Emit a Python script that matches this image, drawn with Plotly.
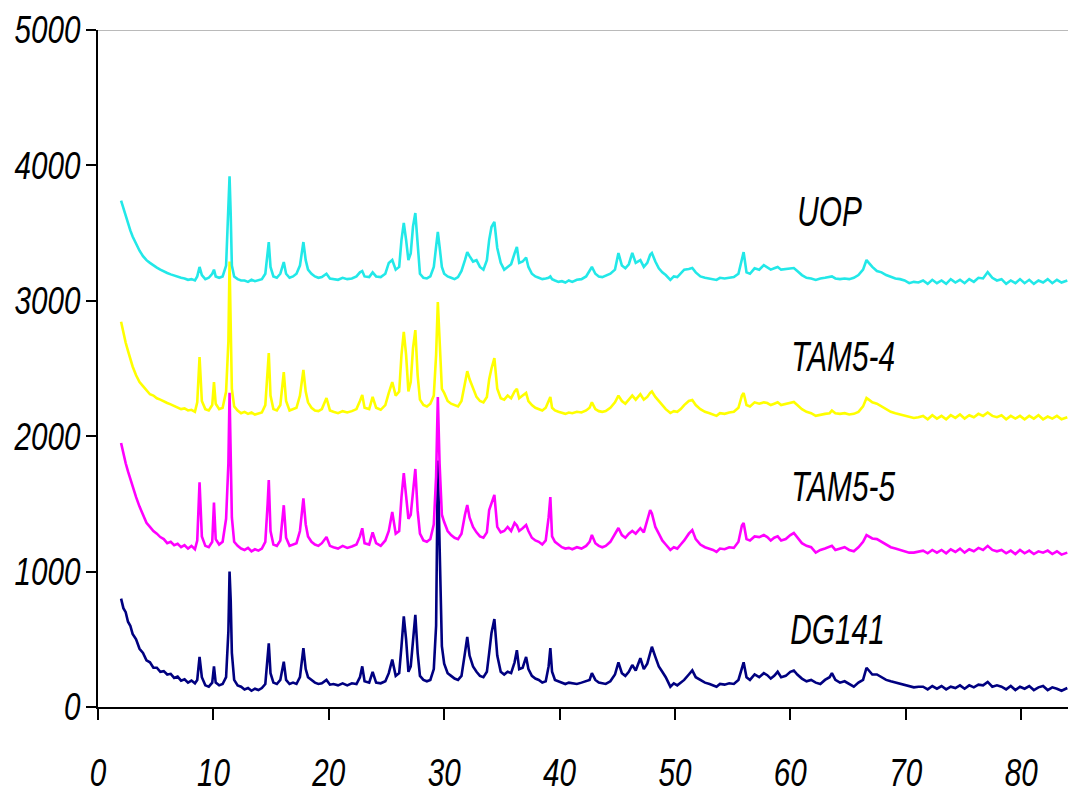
import plotly.graph_objects as go

# Common 2-theta scan positions (degrees)
two_theta = [
    2.0, 2.2, 2.4, 2.6, 2.8, 3.0, 3.3, 3.6, 3.9, 4.2, 4.5, 4.8, 5.1, 5.4, 5.7, 6.0, 6.3, 6.6, 6.9, 7.2, 7.5, 7.8, 8.1, 8.4,
    8.6, 8.8, 9.0, 9.3, 9.6, 9.9, 10.05, 10.2, 10.5, 10.8, 11.1, 11.3, 11.4, 11.5, 11.6, 11.8, 12.1, 12.4,
    12.7, 13.0, 13.3, 13.6, 13.9, 14.2, 14.5, 14.7, 14.8, 14.95, 15.2, 15.5, 15.8, 16.1, 16.3, 16.6, 16.9, 17.2, 17.5, 17.8, 18.0, 18.2,
    18.5, 18.8, 19.1, 19.4, 19.8, 20.1, 20.4, 20.8, 21.2, 21.6, 22.0, 22.4, 22.7, 22.9, 23.1, 23.5, 23.8, 24.1, 24.5, 24.9, 25.2, 25.5, 25.8,
    26.1, 26.3, 26.5, 26.7, 26.9, 27.1, 27.3, 27.5, 27.7, 27.9, 28.2, 28.5, 28.8, 29.1, 29.3, 29.45, 29.6, 29.8, 30.0, 30.3, 30.6, 30.9, 31.2, 31.5,
    31.8, 32.0, 32.2, 32.5, 32.8, 33.1, 33.4, 33.7, 33.9, 34.1, 34.35, 34.6, 34.9, 35.2, 35.5, 35.8, 36.1, 36.3, 36.5, 36.8, 37.1, 37.3, 37.6, 37.9,
    38.2, 38.5, 38.8, 39.05, 39.2, 39.35, 39.6, 39.9, 40.2, 40.5, 40.8, 41.1, 41.5, 41.9, 42.3, 42.6, 42.8, 43.1, 43.4, 43.7, 44.0, 44.4,
    44.8, 45.1, 45.4, 45.7, 46.0, 46.3, 46.6, 47.0, 47.3, 47.6, 47.85, 48.0, 48.3, 48.6, 48.9, 49.2, 49.6, 49.9, 50.2, 50.5, 50.8,
    51.2, 51.5, 51.8, 52.2, 52.6, 53.0, 53.3, 53.6, 53.9, 54.3, 54.7, 55.1, 55.5, 55.8, 55.95, 56.2, 56.5, 56.9, 57.3, 57.7,
    58.0, 58.3, 58.6, 58.9, 59.2, 59.6, 60.0, 60.3, 60.6, 61.0, 61.4, 61.8, 62.2, 62.6, 63.0, 63.4, 63.6, 63.9, 64.3,
    64.7, 65.1, 65.5, 65.9, 66.3, 66.6, 66.8, 67.1, 67.5, 67.9, 68.3, 68.7, 69.1, 69.5, 69.9, 70.3, 70.7, 71.1,
    71.5, 71.9, 72.3, 72.7, 73.1, 73.5, 73.9, 74.3, 74.7, 75.1, 75.5, 75.9, 76.3, 76.7, 77.1, 77.5, 77.9,
    78.3, 78.7, 79.1, 79.5, 79.9, 80.3, 80.7, 81.1, 81.5, 81.9, 82.3, 82.7, 83.1, 83.5, 84.0,
]

# Intensities (counts), each pattern already offset on the stacked plot
uop = [
    3740, 3680, 3620, 3570, 3520, 3475, 3420, 3370, 3330, 3300, 3280, 3260, 3245, 3230, 3215, 3205, 3195, 3185, 3180, 3170, 3165, 3155, 3160, 3150,
    3180, 3250, 3190, 3160, 3170, 3200, 3230, 3180, 3170, 3180, 3260, 3650, 3920, 3640, 3260, 3180, 3160, 3150,
    3150, 3140, 3155, 3145, 3150, 3160, 3200, 3380, 3434, 3250, 3180, 3170, 3200, 3286, 3200, 3170, 3180, 3200, 3260, 3434, 3300, 3230,
    3200, 3180, 3170, 3175, 3200, 3165, 3160, 3155, 3170, 3160, 3165, 3180, 3210, 3220, 3180, 3175, 3210, 3180, 3175, 3200, 3280, 3301, 3230,
    3250, 3450, 3575, 3450, 3300, 3350, 3550, 3648, 3400, 3200, 3170, 3165, 3180, 3250, 3400, 3508, 3400, 3250, 3200, 3180, 3170, 3160, 3175, 3220,
    3300, 3360, 3330, 3290, 3300, 3250, 3230, 3300, 3450, 3545, 3582, 3390, 3280, 3230, 3250, 3270, 3350, 3397, 3280, 3290, 3320, 3250, 3200, 3180,
    3170, 3160, 3165, 3170, 3180, 3160, 3150, 3140, 3145, 3135, 3150, 3140, 3155, 3160, 3180, 3220, 3250, 3200, 3180, 3175, 3185, 3200,
    3230, 3353, 3260, 3240, 3270, 3353, 3280, 3300, 3250, 3280, 3340, 3353, 3290, 3240, 3210, 3190, 3154, 3180, 3175, 3200, 3230,
    3235, 3242, 3210, 3180, 3170, 3165, 3160, 3154, 3170, 3165, 3170, 3175, 3200, 3320, 3360, 3210, 3200, 3240, 3230, 3264,
    3250, 3230, 3240, 3250, 3230, 3235, 3240, 3242, 3220, 3190, 3170, 3165, 3154, 3165, 3170, 3175, 3180, 3165, 3160,
    3165, 3160, 3170, 3190, 3230, 3301, 3280, 3250, 3220, 3210, 3190, 3175, 3165, 3160, 3150, 3130, 3140, 3135,
    3150, 3125, 3155, 3130, 3150, 3125, 3160, 3135, 3155, 3130, 3160, 3140, 3170, 3165, 3212, 3170, 3150,
    3160, 3125, 3150, 3130, 3160, 3130, 3155, 3125, 3150, 3135, 3160, 3130, 3155, 3135, 3150,
]

tam5_4 = [
    2845, 2760, 2690, 2630, 2570, 2515, 2450, 2400, 2370, 2340, 2310, 2300, 2280, 2270, 2255, 2245, 2235, 2225, 2215, 2200, 2205, 2190, 2195, 2180,
    2250, 2585, 2260, 2200, 2190, 2230, 2400, 2240, 2200, 2210, 2330, 2700, 3290, 2900, 2350, 2220, 2190, 2170,
    2180, 2165, 2175, 2160, 2170, 2175, 2230, 2500, 2614, 2300, 2200, 2190, 2230, 2474, 2260, 2190, 2200, 2210, 2300, 2489, 2330, 2250,
    2210, 2190, 2185, 2200, 2282, 2190, 2180, 2170, 2185, 2175, 2185, 2200, 2260, 2304, 2210, 2200, 2290, 2210, 2195, 2230, 2320, 2400, 2300,
    2330, 2600, 2770, 2600, 2330, 2400, 2650, 2784, 2450, 2270, 2230, 2220, 2240, 2300, 2600, 2991, 2700, 2350, 2320, 2260, 2240, 2230, 2220, 2260,
    2400, 2480, 2420, 2350, 2290, 2260, 2250, 2290, 2420, 2500, 2577, 2350, 2280, 2270, 2300, 2280, 2330, 2350, 2280, 2300, 2320, 2260, 2230, 2210,
    2200, 2190, 2210, 2260, 2290, 2210, 2190, 2180, 2170, 2165, 2175, 2170, 2180, 2175, 2190, 2210, 2250, 2200, 2185, 2180, 2185, 2210,
    2250, 2300, 2260, 2240, 2270, 2300, 2270, 2310, 2270, 2290, 2320, 2330, 2290, 2260, 2230, 2200, 2171, 2185, 2180, 2200, 2230,
    2260, 2267, 2230, 2200, 2180, 2170, 2160, 2150, 2170, 2165, 2175, 2180, 2210, 2300, 2319, 2230, 2220, 2250, 2240, 2250,
    2245, 2230, 2240, 2250, 2230, 2240, 2250, 2253, 2230, 2200, 2180, 2170, 2150, 2160, 2165, 2170, 2190, 2170, 2165,
    2170, 2160, 2165, 2180, 2220, 2282, 2270, 2250, 2240, 2220, 2200, 2180, 2170, 2160, 2150, 2140, 2135, 2140,
    2150, 2125, 2155, 2130, 2150, 2125, 2155, 2135, 2160, 2130, 2155, 2140, 2165, 2150, 2175, 2150, 2140,
    2155, 2125, 2150, 2130, 2150, 2125, 2150, 2130, 2155, 2125, 2145, 2130, 2150, 2125, 2140,
]

tam5_5 = [
    1950, 1870, 1800, 1740, 1680, 1630, 1550, 1480, 1420, 1360, 1330, 1300, 1280, 1255, 1240, 1210, 1220, 1195, 1205, 1180, 1195, 1170, 1190, 1165,
    1230, 1660, 1260, 1190, 1180, 1220, 1510, 1240, 1200, 1220, 1390, 1800, 2320, 1900, 1400, 1220, 1190, 1170,
    1160, 1175, 1150, 1165, 1155, 1170, 1220, 1500, 1676, 1300, 1200, 1190, 1230, 1490, 1250, 1190, 1200, 1210, 1300, 1540, 1350, 1260,
    1220, 1200, 1190, 1210, 1255, 1190, 1180, 1170, 1190, 1175, 1185, 1200, 1260, 1320, 1210, 1200, 1290, 1210, 1190, 1230, 1300, 1440, 1280,
    1300, 1550, 1728, 1560, 1390, 1420, 1620, 1758, 1450, 1280, 1230, 1220, 1240, 1350, 1700, 2290, 1800, 1420, 1366, 1300, 1270, 1250, 1240, 1280,
    1420, 1492, 1400, 1330, 1290, 1260, 1250, 1290, 1455, 1500, 1566, 1330, 1290, 1300, 1330, 1300, 1359, 1340, 1300, 1320, 1344, 1300, 1250, 1230,
    1220, 1200, 1230, 1400, 1551, 1260, 1220, 1200, 1180, 1170, 1175, 1165, 1180, 1170, 1190, 1220, 1270, 1210, 1190, 1180, 1190, 1220,
    1280, 1322, 1270, 1250, 1280, 1300, 1280, 1320, 1290, 1380, 1455, 1430, 1330, 1280, 1230, 1200, 1160, 1180, 1170, 1200, 1230,
    1280, 1307, 1240, 1200, 1180, 1170, 1160, 1145, 1170, 1165, 1180, 1175, 1220, 1340, 1359, 1240, 1230, 1260, 1255, 1270,
    1255, 1230, 1250, 1260, 1230, 1240, 1270, 1285, 1250, 1210, 1190, 1180, 1140, 1160, 1170, 1180, 1190, 1160, 1170,
    1180, 1160, 1150, 1180, 1220, 1270, 1260, 1245, 1240, 1220, 1200, 1180, 1170, 1160, 1150, 1140, 1140, 1150,
    1155, 1135, 1160, 1140, 1160, 1135, 1165, 1145, 1170, 1140, 1165, 1150, 1175, 1160, 1190, 1160, 1150,
    1160, 1135, 1155, 1130, 1160, 1135, 1155, 1130, 1150, 1140, 1155, 1130, 1150, 1125, 1140,
]

dg141 = [
    800, 730, 700, 630, 600, 540, 500, 430, 400, 345, 330, 290, 290, 260, 265, 240, 245, 215, 225, 195, 205, 180, 195, 175,
    200, 370, 220, 160, 150, 180, 300, 180, 160, 170, 220, 560, 1000, 790, 400, 200, 160, 150,
    130, 140, 120, 135, 125, 140, 170, 350, 470, 250, 180, 170, 200, 335, 200, 170, 180, 170, 220, 435, 280, 220,
    200, 180, 170, 175, 200, 165, 170, 160, 175, 160, 175, 170, 220, 300, 190, 180, 260, 180, 175, 190, 250, 350, 230,
    250, 450, 670, 500, 260, 300, 520, 680, 400, 230, 200, 190, 200, 280, 600, 1820, 1200, 450, 320, 250, 230, 210, 200, 230,
    400, 517, 380, 300, 260, 230, 220, 260, 400, 547, 650, 380, 260, 240, 260, 250, 330, 420, 280, 290, 370, 280, 230, 210,
    200, 180, 190, 300, 435, 260, 200, 190, 180, 170, 180, 175, 170, 180, 190, 200, 250, 200, 180, 175, 170, 190,
    240, 330, 250, 230, 260, 310, 270, 360, 280, 320, 400, 445, 370, 300, 260, 220, 150, 175, 160, 180, 200,
    240, 270, 220, 200, 180, 170, 160, 150, 170, 165, 175, 170, 200, 300, 330, 220, 200, 240, 220, 250,
    235, 210, 230, 260, 220, 230, 260, 270, 240, 210, 190, 200, 180, 170, 200, 220, 250, 200, 180,
    190, 170, 150, 180, 200, 290, 270, 240, 240, 220, 200, 190, 180, 170, 160, 150, 145, 150,
    150, 130, 155, 135, 155, 130, 150, 140, 160, 135, 160, 145, 165, 160, 185, 150, 160,
    150, 130, 155, 125, 150, 135, 155, 125, 145, 155, 125, 145, 135, 120, 140,
]

sample_names = ["UOP", "TAM5-4", "TAM5-5", "DG141"]
sample_colors = ["#22E8E8", "#FFFF00", "#FF00FF", "#000080"]
sample_data = [uop, tam5_4, tam5_5, dg141]
# Where each sample name is written (2-theta, counts)
label_x = [63.4, 64.6, 64.6, 64.1]
label_y = [3660, 2590, 1630, 570]

x_ticks = [0, 10, 20, 30, 40, 50, 60, 70, 80]
y_ticks = [0, 1000, 2000, 3000, 4000, 5000]

for series in sample_data:
    assert len(series) == len(two_theta)

FONT_FAMILY = "Liberation Sans, Arial, sans-serif"
TICK_FONT = dict(family=FONT_FAMILY, size=38, color="black", style="italic")

fig = go.Figure()
# draw bottom-up so the upper patterns sit on top
for name, color, ys in reversed(list(zip(sample_names, sample_colors, sample_data))):
    fig.add_trace(go.Scatter(x=two_theta, y=ys, mode="lines", name=name,
                             line=dict(color=color, width=2.6)))

for name, lx, ly in zip(sample_names, label_x, label_y):
    fig.add_annotation(x=lx, y=ly, text=name, showarrow=False,
                       font=dict(family=FONT_FAMILY, size=42, color="black", style="italic"))

fig.add_shape(type="line", xref="paper", yref="y", x0=0, x1=1, y0=5000, y1=5000,
              line=dict(color="#777777", width=1))

fig.update_layout(
    template="none",
    width=1068, height=796,
    margin=dict(l=98, r=0, t=30, b=89),
    paper_bgcolor="white", plot_bgcolor="white",
    showlegend=False,
    xaxis=dict(range=[0, 84.06], tickvals=x_ticks, ticks="outside", ticklen=11, tickwidth=2,
               tickcolor="black", showline=True, linecolor="black", linewidth=2,
               showgrid=False, zeroline=False, tickfont=TICK_FONT, ticklabelstandoff=20,
               automargin=False),
    yaxis=dict(range=[0, 5000], tickvals=y_ticks, ticks="outside", ticklen=10, tickwidth=2,
               tickcolor="black", showline=True, linecolor="black", linewidth=2,
               showgrid=False, zeroline=False, tickfont=TICK_FONT, ticklabelstandoff=-2,
               automargin=False),
)

# Narrow the italic lettering (condensed look) once the plot is drawn
squeeze_js = """
var gd = document.getElementById('{plot_id}');
function squeeze(sel, f) {
  gd.querySelectorAll(sel).forEach(function (t) {
    var w = t.getComputedTextLength();
    t.setAttribute('textLength', (w * f).toFixed(1));
    t.setAttribute('lengthAdjust', 'spacingAndGlyphs');
  });
}
squeeze('g.xtick text', 0.78);
squeeze('g.ytick text', 0.78);
squeeze('text.annotation-text', 0.71);
"""

fig.write_html("out.html", post_script=squeeze_js)
